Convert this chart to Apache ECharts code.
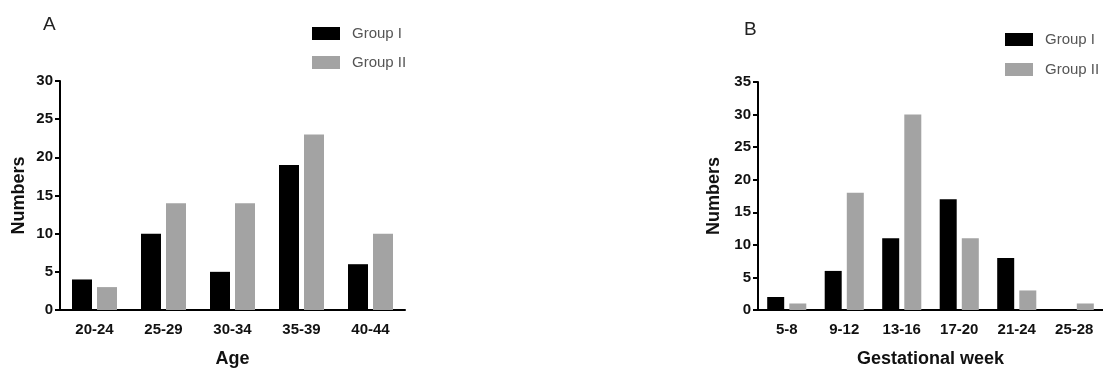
<!DOCTYPE html>
<html>
<head>
<meta charset="utf-8">
<script src="https://cdn.jsdelivr.net/npm/echarts@6/dist/echarts.min.js"></script>
<style>
  html, body { margin: 0; padding: 0; background: #fff; }
  #main { width: 1103px; height: 369px; }
</style>
</head>
<body>
<div id="main"></div>
<script>
// data
var ageCats = ['20-24', '25-29', '30-34', '35-39', '40-44'];
var ageGroup1 = [4, 10, 5, 19, 6];
var ageGroup2 = [3, 14, 14, 23, 10];

var weekCats = ['5-8', '9-12', '13-16', '17-20', '21-24', '25-28'];
var weekGroup1 = [2, 6, 11, 17, 8, 0];
var weekGroup2 = [1, 18, 30, 11, 3, 1];

var myChart = echarts.init(document.getElementById('main'));

var font = 'Liberation Sans, Arial, sans-serif';
var black = '#000';
var gray = '#a3a3a3';

function xAxisOf(idx, cats, name) {
    return {
        type: 'category',
        gridIndex: idx,
        data: cats,
        name: name,
        nameLocation: 'middle',
        nameGap: 40,
        nameTextStyle: { fontFamily: font, fontWeight: 'bold', fontSize: 18, color: '#111' },
        axisLine: { lineStyle: { color: '#000', width: 2 } },
        axisTick: { alignWithLabel: true, length: 5, lineStyle: { color: '#000', width: 2 } },
        axisLabel: { fontFamily: font, fontWeight: 'bold', fontSize: 15, color: '#111', margin: 12, interval: 0 }
    };
}

function yAxisOf(idx, max, gap) {
    return {
        type: 'value',
        gridIndex: idx,
        min: 0,
        max: max,
        interval: 5,
        name: 'Numbers',
        nameLocation: 'middle',
        nameGap: gap,
        nameTextStyle: { fontFamily: font, fontWeight: 'bold', fontSize: 18, color: '#111' },
        splitLine: { show: false },
        axisLine: { show: true, lineStyle: { color: '#000', width: 2 } },
        axisTick: { show: true, length: 5, lineStyle: { color: '#000', width: 2 } },
        axisLabel: { fontFamily: font, fontWeight: 'bold', fontSize: 15, color: '#111', margin: 7 }
    };
}

function legendAt(left, top, gap) {
    return {
        data: ['Group I', 'Group II'],
        orient: 'vertical',
        left: left, top: top,
        padding: 0,
        itemWidth: 28, itemHeight: 13, itemGap: gap,
        icon: 'rect',
        textStyle: { fontFamily: font, fontSize: 15, color: '#555', padding: [0, 0, 0, 7] }
    };
}

option = {
    animation: false,
    title: [
        { text: 'A', left: 43, top: 15, padding: 0, textStyle: { fontFamily: font, fontWeight: 'normal', fontSize: 19, color: '#222' } },
        { text: 'B', left: 744, top: 20, padding: 0, textStyle: { fontFamily: font, fontWeight: 'normal', fontSize: 19, color: '#222' } }
    ],
    legend: [
        legendAt(312, 26, 14),
        legendAt(1005, 32, 15)
    ],
    grid: [
        { left: 60, top: 81, width: 345, height: 229, outerBoundsMode: 'none', containLabel: false },
        { left: 758, top: 82, width: 345, height: 228, outerBoundsMode: 'none', containLabel: false }
    ],
    xAxis: [
        xAxisOf(0, ageCats, 'Age'),
        xAxisOf(1, weekCats, 'Gestational week')
    ],
    yAxis: [
        yAxisOf(0, 30, 32),
        yAxisOf(1, 35, 35)
    ],
    series: [
        { name: 'Group I', type: 'bar', xAxisIndex: 0, yAxisIndex: 0, data: ageGroup1, barWidth: 20, barGap: '25%', itemStyle: { color: black } },
        { name: 'Group II', type: 'bar', xAxisIndex: 0, yAxisIndex: 0, data: ageGroup2, barWidth: 20, barGap: '25%', itemStyle: { color: gray } },
        { name: 'Group I', type: 'bar', xAxisIndex: 1, yAxisIndex: 1, data: weekGroup1, barWidth: 17, barGap: '30%', itemStyle: { color: black } },
        { name: 'Group II', type: 'bar', xAxisIndex: 1, yAxisIndex: 1, data: weekGroup2, barWidth: 17, barGap: '30%', itemStyle: { color: gray } }
    ]
};

myChart.setOption(option);
</script>
</body>
</html>
